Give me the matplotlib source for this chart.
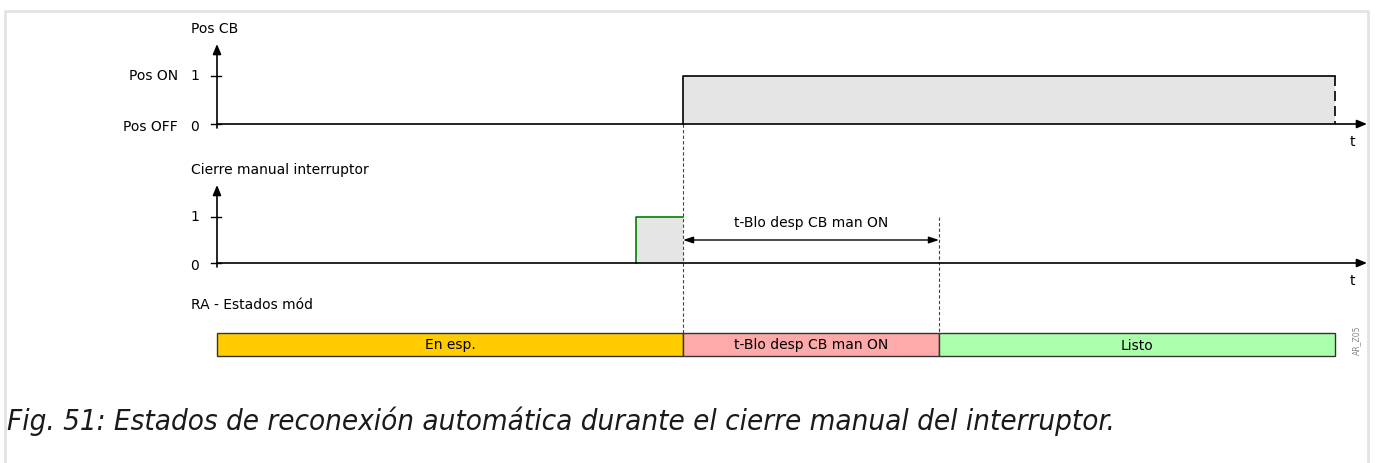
import matplotlib
matplotlib.use("Agg")
import matplotlib.pyplot as plt
from matplotlib.patches import Rectangle

# event times (horizontal position along the time axis)
t_axis_start = 217
t_axis_end = 1367
t_manual_on = 636
t_cb_on = 683
t_block_end = 939
t_end = 1335

# rows: baseline (0) and level-1 positions
row_labels = ["Pos CB", "Cierre manual interruptor", "RA - Estados mód"]
row_zero = [124, 263]
row_one = [76, 217]
row_top = [44, 185]
top_ticklabels = ["Pos OFF", "Pos ON"]

# state bar
state_names = ["En esp.", "t-Blo desp CB man ON", "Listo"]
state_bounds = [t_axis_start, t_cb_on, t_block_end, t_end]
state_colors = ["#ffcc00", "#ffaaaa", "#aaffaa"]
bar_top, bar_bottom = 333, 356

block_label = "t-Blo desp CB man ON"
caption = "Fig. 51: Estados de reconexión automática durante el cierre manual del interruptor."

fig = plt.figure(figsize=(13.77, 4.63), dpi=100)
ax = fig.add_axes([0, 0, 1, 1])
ax.set_xlim(0, 1377)
ax.set_ylim(463, 0)
ax.axis("off")

fs = 10
# page frame
ax.plot([5, 5, 1368, 1368], [470, 11, 11, 470], color="#e3e3e3", lw=2, solid_capstyle="butt")

arrow_kw = dict(arrowstyle="-|>,head_length=0.6,head_width=0.25", color="black", lw=1.2,
                shrinkA=0, shrinkB=0)

for i in range(2):
    y0, y1, yt = row_zero[i], row_one[i], row_top[i]
    # y axis
    ax.annotate("", xy=(t_axis_start, yt), xytext=(t_axis_start, y0 + 4), arrowprops=arrow_kw)
    # time axis
    ax.annotate("", xy=(t_axis_end, y0), xytext=(t_axis_start, y0), arrowprops=arrow_kw)
    # ticks
    for y in (y0, y1):
        ax.plot([t_axis_start - 6, t_axis_start + 4], [y, y], color="black", lw=1)
    ax.text(199, y1, "1", ha="right", va="center", fontsize=fs)
    ax.text(199, y0 + 3, "0", ha="right", va="center", fontsize=fs)
    ax.text(1352, y0 + 18, "t", ha="center", va="center", fontsize=fs)
    ax.text(191, yt - 15, row_labels[i], ha="left", va="center", fontsize=fs)

ax.text(178, row_one[0], top_ticklabels[1], ha="right", va="center", fontsize=fs)
ax.text(178, row_zero[0] + 3, top_ticklabels[0], ha="right", va="center", fontsize=fs)
ax.text(191, 305, row_labels[2], ha="left", va="center", fontsize=fs)

# Pos CB signal
ax.add_patch(Rectangle((t_cb_on, row_one[0]), t_end - t_cb_on, row_zero[0] - row_one[0],
                       facecolor="#e5e5e5", edgecolor="none"))
ax.plot([t_cb_on, t_cb_on, t_end], [row_zero[0], row_one[0], row_one[0]], color="black", lw=1.2)
ax.plot([t_end, t_end], [row_one[0], row_zero[0]], color="black", lw=1.2, ls=(0, (6, 3)))

# manual close pulse
ax.add_patch(Rectangle((t_manual_on, row_one[1]), t_cb_on - t_manual_on, row_zero[1] - row_one[1],
                       facecolor="#e5e5e5", edgecolor="none"))
ax.plot([t_manual_on, t_manual_on, t_cb_on], [row_zero[1], row_one[1], row_one[1]],
        color="green", lw=1.2)

# dashed guide lines
ax.plot([t_cb_on, t_cb_on], [row_zero[0], bar_top], color="#444444", lw=0.8, ls=(0, (3, 2)))
ax.plot([t_block_end, t_block_end], [row_one[1], bar_top], color="#444444", lw=0.8, ls=(0, (3, 2)))

# duration arrow
ax.annotate("", xy=(t_block_end, 240), xytext=(t_cb_on, 240),
            arrowprops=dict(arrowstyle="<|-|>,head_length=0.6,head_width=0.2", color="black",
                            lw=1, shrinkA=0, shrinkB=0))
ax.text((t_cb_on + t_block_end) / 2, 223, block_label, ha="center", va="center", fontsize=fs)

# state bar
for name, xa, xb, c in zip(state_names, state_bounds[:-1], state_bounds[1:], state_colors):
    ax.add_patch(Rectangle((xa, bar_top), xb - xa, bar_bottom - bar_top, facecolor=c,
                           edgecolor="#333333", lw=1))
    ax.text((xa + xb) / 2, (bar_top + bar_bottom) / 2 + 1, name, ha="center", va="center", fontsize=fs)

ax.text(1357, 340, "AR_Z05", rotation=90, ha="center", va="center", fontsize=5.5, color="#888888")

ax.text(7, 430, caption, ha="left", va="baseline", fontsize=21.2, style="italic",
        fontstretch="condensed", color="#1a1a1a")

fig.savefig("out.png", dpi=100)
